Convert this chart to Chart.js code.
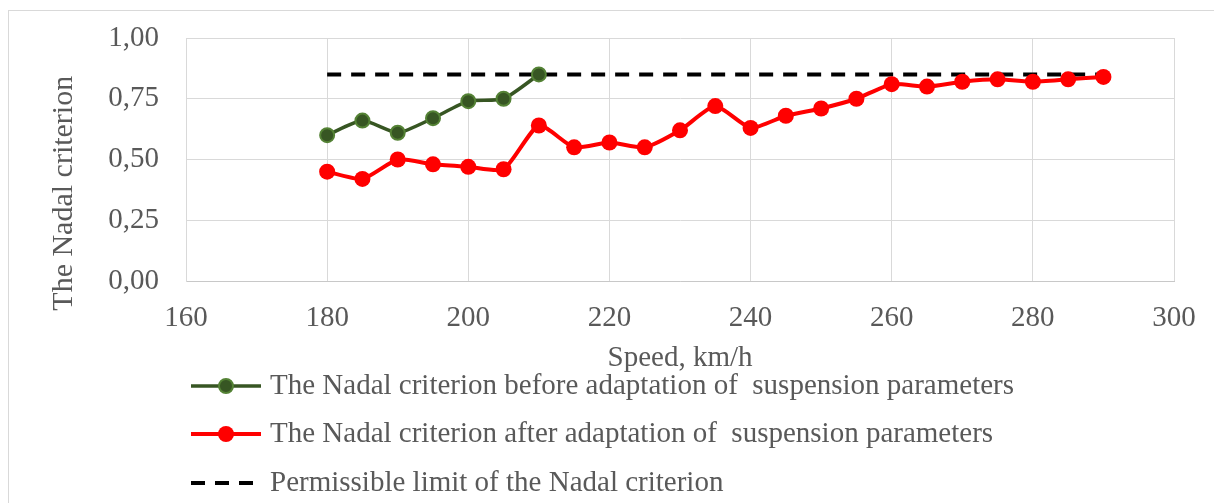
<!DOCTYPE html>
<html>
<head>
<meta charset="utf-8">
<script src="https://cdn.jsdelivr.net/npm/chart.js@4.4.1/dist/chart.umd.min.js"></script>
<style>
  html, body { margin: 0; padding: 0; background: #fff; overflow: hidden; }
  #frame {
    position: absolute; left: 8px; top: 10px;
    width: 1210px; height: 500px;
    border: 1px solid #d9d9d9;
  }
  canvas { display: block; }
</style>
</head>
<body>
<div id="frame"><canvas id="chart" width="1210" height="492"></canvas></div>
<script>
// Nadal criterion vs speed
const speedsBefore = [180, 185, 190, 195, 200, 205, 210];
const nadalBefore = [0.60, 0.66, 0.61, 0.67, 0.74, 0.75, 0.85];

const speedsAfter = [180, 185, 190, 195, 200, 205, 210, 215, 220, 225, 230, 235,
  240, 245, 250, 255, 260, 265, 270, 275, 280, 285, 290];
const nadalAfter = [0.45, 0.42, 0.50, 0.48, 0.47, 0.46, 0.64, 0.55, 0.57, 0.55, 0.62, 0.72,
  0.63, 0.68, 0.71, 0.75, 0.81, 0.80, 0.82, 0.83, 0.82, 0.83, 0.84];

const limitSpeeds = [180, 290];
const limitValues = [0.85, 0.85];

const seriesLabels = [
  'The Nadal criterion before adaptation of  suspension parameters',
  'The Nadal criterion after adaptation of  suspension parameters',
  'Permissible limit of the Nadal criterion',
];

const COLORS = {
  text: '#595959',
  grid: '#d9d9d9',
  green: '#375623',
  greenEdge: '#548235',
  red: '#ff0000',
  limit: '#000000',
};
const FONT = 'Liberation Serif';

const toPoints = (xs, ys) => xs.map((x, i) => ({ x: x, y: ys[i] }));

// legend drawn by hand so it sits flush left under the plot like the original
const sideLegend = {
  id: 'sideLegend',
  afterDraw(chart) {
    const ctx = chart.ctx;
    const rows = [375, 423, 472];
    const x0 = 182, x1 = 252, tx = 261;
    ctx.save();
    chart.data.datasets.forEach((ds, i) => {
      const y = rows[i];
      ctx.strokeStyle = ds.borderColor;
      ctx.lineWidth = ds.borderWidth;
      ctx.setLineDash(ds.borderDash || []);
      ctx.beginPath();
      ctx.moveTo(x0, y);
      ctx.lineTo(x1, y);
      ctx.stroke();
      ctx.setLineDash([]);
      if (ds.pointRadius > 0) {
        ctx.beginPath();
        ctx.arc((x0 + x1) / 2, y, ds.pointRadius, 0, Math.PI * 2);
        ctx.fillStyle = ds.pointBackgroundColor;
        ctx.fill();
        if (ds.pointBorderWidth) {
          ctx.lineWidth = ds.pointBorderWidth;
          ctx.strokeStyle = ds.pointBorderColor;
          ctx.stroke();
        }
      }
      ctx.fillStyle = COLORS.text;
      ctx.font = '29px "' + FONT + '"';
      ctx.textBaseline = 'middle';
      ctx.textAlign = 'left';
      ctx.fillText(ds.label, tx, y);
    });
    ctx.restore();
  },
};

new Chart(document.getElementById('chart').getContext('2d'), {
  type: 'line',
  data: {
    datasets: [
      {
        label: seriesLabels[0],
        data: toPoints(speedsBefore, nadalBefore),
        borderColor: COLORS.green,
        borderWidth: 3.5,
        pointRadius: 7,
        pointBackgroundColor: COLORS.green,
        pointBorderColor: COLORS.greenEdge,
        pointBorderWidth: 2,
        tension: 0.2,
        order: 1,
      },
      {
        label: seriesLabels[1],
        data: toPoints(speedsAfter, nadalAfter),
        borderColor: COLORS.red,
        borderWidth: 4,
        pointRadius: 8,
        pointBackgroundColor: COLORS.red,
        pointBorderColor: COLORS.red,
        pointBorderWidth: 0,
        tension: 0.2,
        order: 2,
      },
      {
        label: seriesLabels[2],
        data: toPoints(limitSpeeds, limitValues),
        borderColor: COLORS.limit,
        borderWidth: 4,
        borderDash: [14, 10],
        pointRadius: 0,
        order: 3,
      },
    ],
  },
  options: {
    responsive: false,
    animation: false,
    layout: { padding: { top: 27, right: 45, bottom: 127, left: 0 } },
    plugins: {
      legend: { display: false },
      tooltip: { enabled: false },
    },
    scales: {
      x: {
        type: 'linear',
        min: 160,
        max: 300,
        afterFit: (s) => { s.height = 95; },
        grid: { color: COLORS.grid, drawTicks: false },
        border: { color: '#c8c8c8' },
        ticks: {
          stepSize: 20,
          padding: 20,
          color: COLORS.text,
          font: { family: FONT, size: 29 },
        },
        title: {
          display: true,
          text: 'Speed, km/h',
          color: COLORS.text,
          font: { family: FONT, size: 29 },
          padding: { top: 0, bottom: 0 },
        },
      },
      y: {
        min: 0,
        max: 1,
        afterFit: (s) => {
          s.width = 177;
          s.paddingTop = 0;
          s.paddingBottom = 0;
        },
        grid: { color: COLORS.grid, drawTicks: false },
        border: { color: COLORS.grid },
        ticks: {
          stepSize: 0.25,
          padding: 27,
          color: COLORS.text,
          font: { family: FONT, size: 29 },
          callback: (v) => v.toFixed(2).replace('.', ','),
        },
        title: {
          display: true,
          // trailing spaces push the title down, as in the original
          text: 'The Nadal criterion         ',
          color: COLORS.text,
          font: { family: FONT, size: 30 },
          padding: { top: 37, bottom: 0 },
        },
      },
    },
  },
  plugins: [sideLegend],
});
</script>
</body>
</html>
